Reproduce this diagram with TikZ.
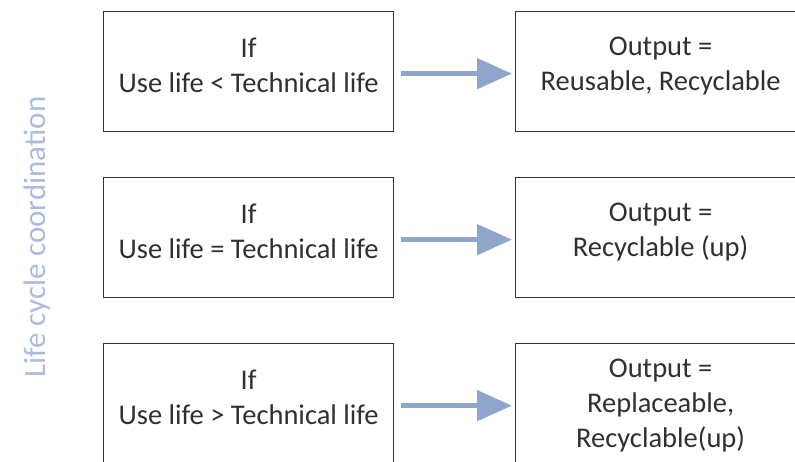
\documentclass[tikz,border=0pt]{standalone}
\usepackage{fontspec}
\setmainfont{Carlito}
\usetikzlibrary{arrows.meta}
\definecolor{arrowblue}{HTML}{8FA5CC}
\definecolor{sidetext}{HTML}{A9BCDC}
\definecolor{boxline}{HTML}{333333}
\definecolor{txt}{HTML}{303030}
\tikzset{
  x=1pt, y=-1pt,
  box/.style={draw=boxline, line width=1.3pt, minimum width=290pt, minimum height=120pt, inner sep=0pt, anchor=north west},
  boxtext/.style={align=center, text=txt, font=\fontsize{28.5}{35}\selectfont, inner sep=0pt},
  flow/.style={draw=arrowblue, line width=5pt, -{Triangle[length=35pt,width=30pt]}, shorten >=3pt},
}
\begin{document}
\begin{tikzpicture}
\useasboundingbox (0,0) rectangle (795,462);
% left boxes
\node[box] (l1) at (103,11) {};
\node[box] (l2) at (103,177) {};
\node[box] (l3) at (103,343) {};
% right boxes
\node[box] (r1) at (515,11) {};
\node[box] (r2) at (515,177) {};
\node[box] (r3) at (515,343) {};
% texts
\node[boxtext] (t1) at ([yshift=6pt]l1.center) {If\\Use life < Technical life};
\node[boxtext] (t2) at ([yshift=6pt]l2.center) {If\\Use life = Technical life};
\node[boxtext] (t3) at ([yshift=6pt]l3.center) {If\\Use life > Technical life};
\node[boxtext] (u1) at ([yshift=6pt]r1.center) {Output =\\Reusable, Recyclable};
\node[boxtext] (u2) at ([yshift=6pt]r2.center) {Output =\\Recyclable (up)};
\node[boxtext] (u3) at ([yshift=-2pt]r3.center) {Output =\\Replaceable,\\Recyclable(up)};
% arrows
\draw[flow] ([xshift=7pt,yshift=-2pt]l1.east) -- ([yshift=-2pt]r1.west);
\draw[flow] ([xshift=7pt,yshift=-2pt]l2.east) -- ([yshift=-2pt]r2.west);
\draw[flow] ([xshift=7pt,yshift=-2pt]l3.east) -- ([yshift=-2pt]r3.west);
% side label
\node[rotate=90, text=sidetext, font=\fontsize{31}{36}\selectfont, inner sep=0pt] (side) at (37,237) {Life cycle coordination};
\end{tikzpicture}
\end{document}
